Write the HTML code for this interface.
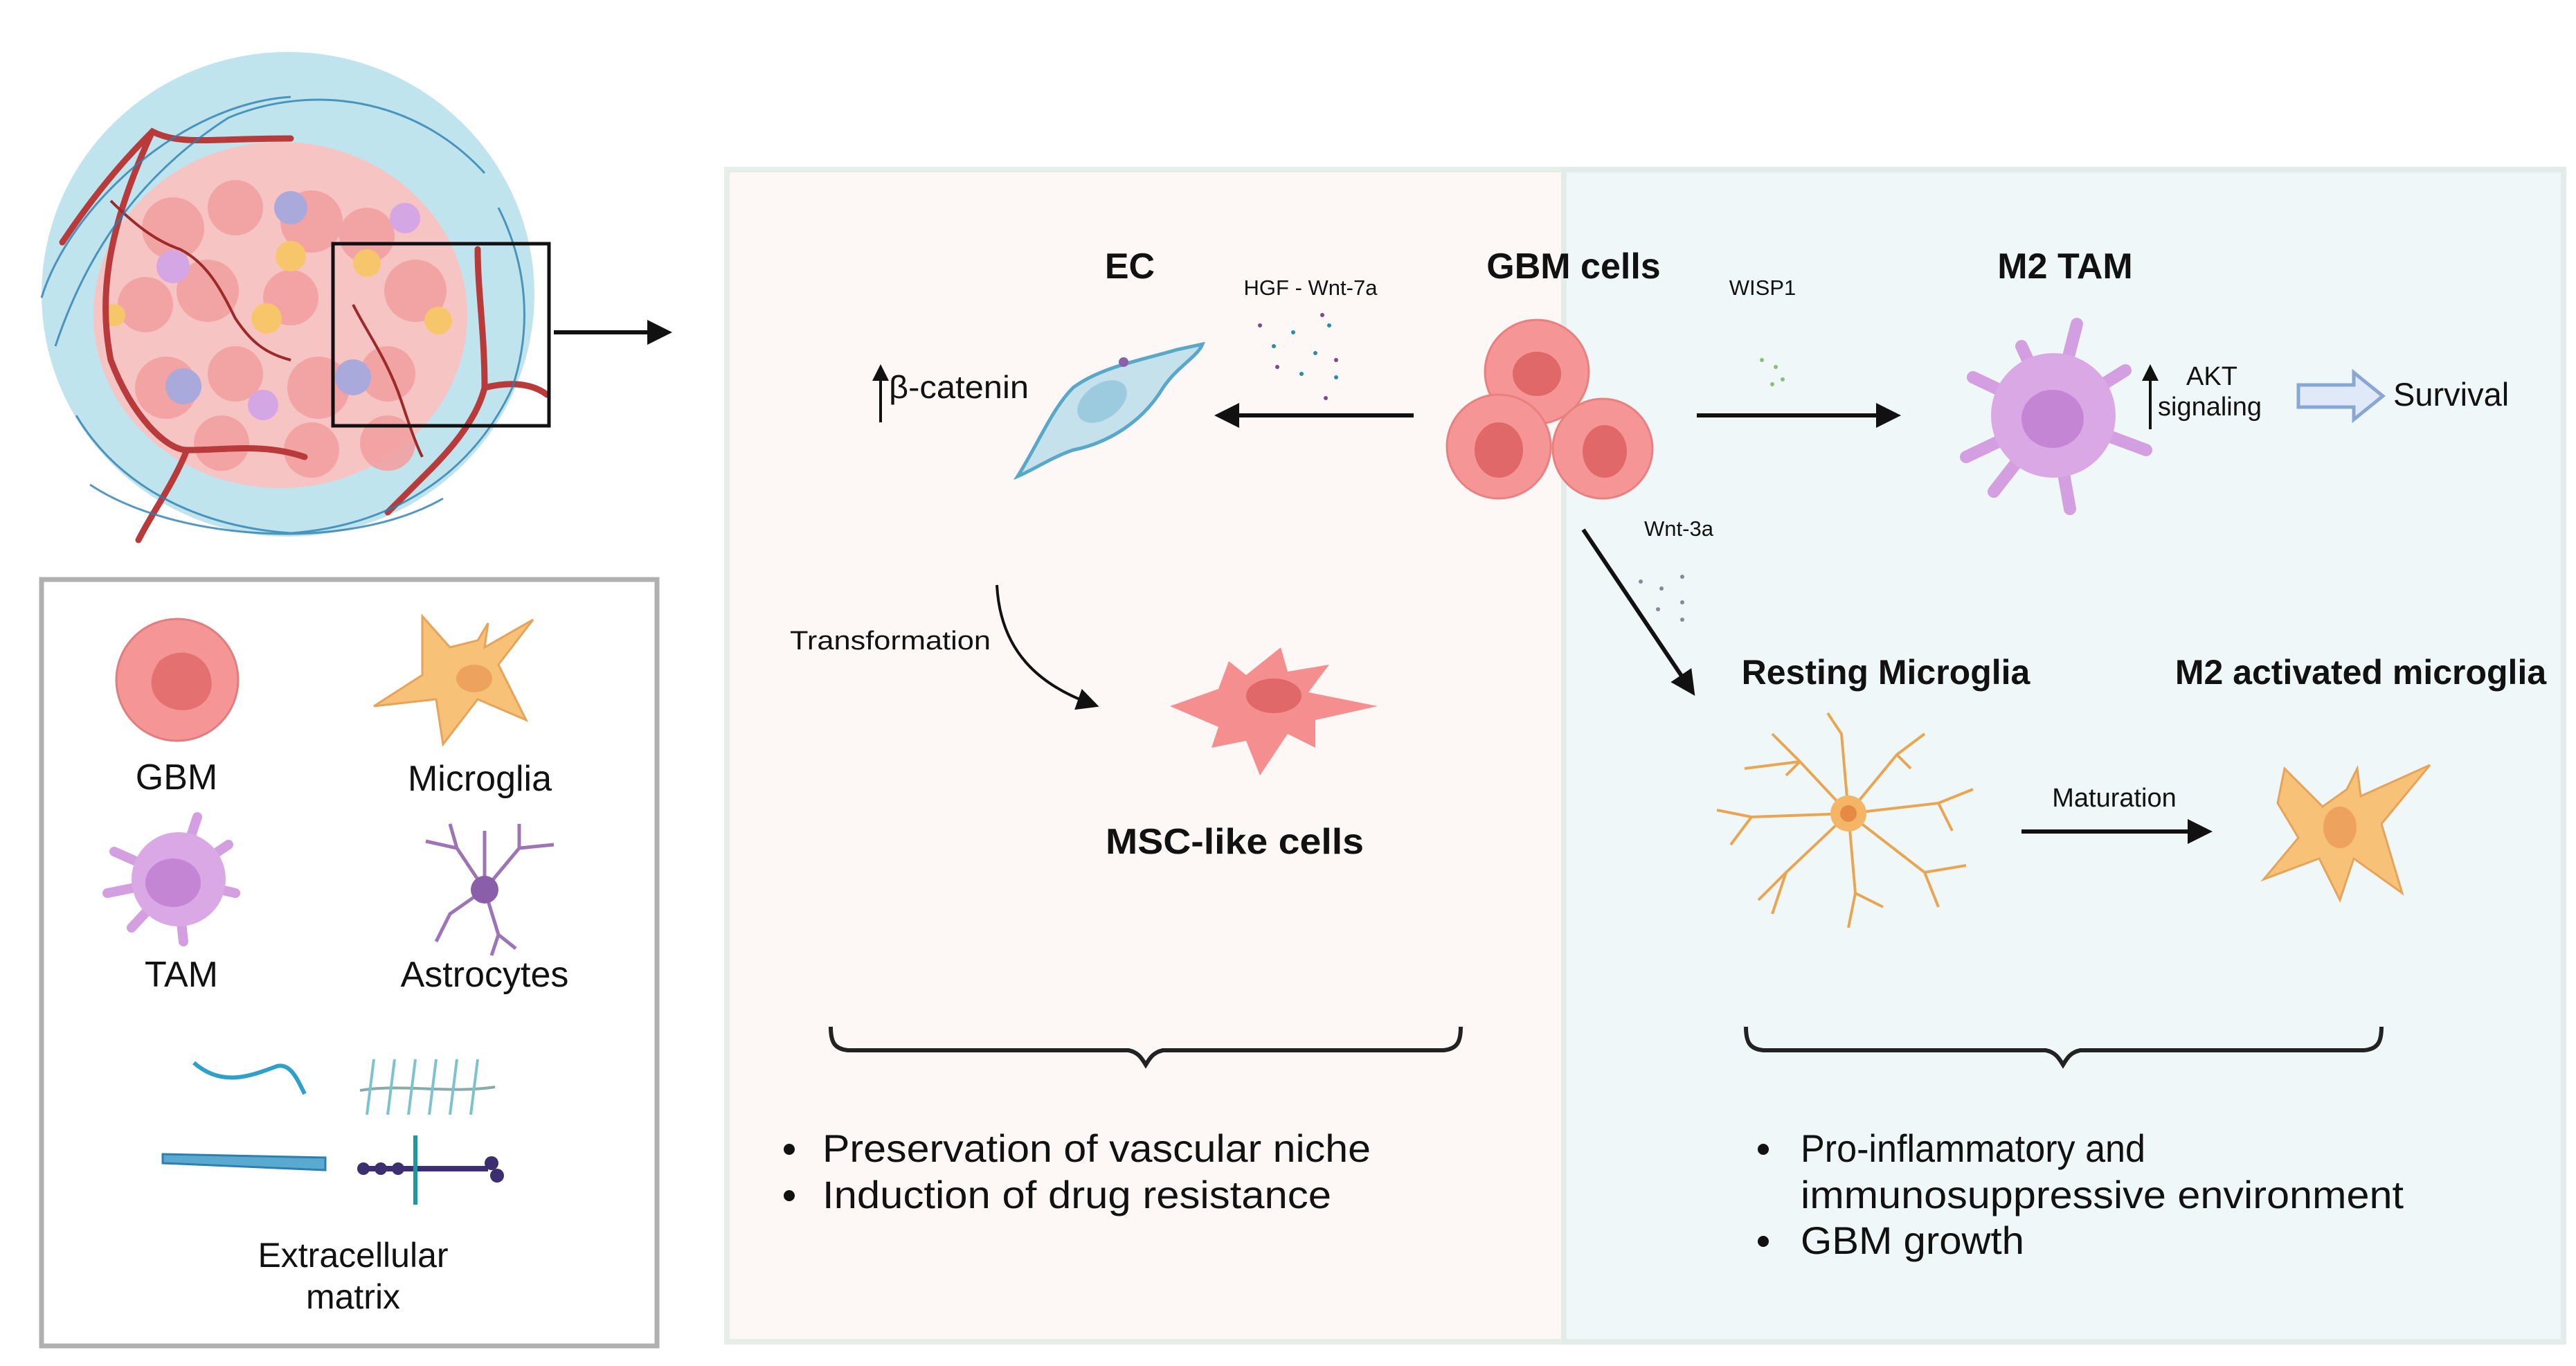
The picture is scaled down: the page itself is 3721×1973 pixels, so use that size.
<!DOCTYPE html>
<html><head><meta charset="utf-8"><style>
html,body{margin:0;padding:0;background:#fff;}
svg{display:block;}
text{font-family:"Liberation Sans",sans-serif;fill:#111;}
</style></head><body>
<svg width="3721" height="1973" viewBox="0 0 3721 1973" xmlns="http://www.w3.org/2000/svg">
<defs>
<marker id="ah" markerWidth="6" markerHeight="6" refX="5" refY="3" orient="auto" markerUnits="strokeWidth"><path d="M0,0 L6,3 L0,6 Z" fill="#111"/></marker>
<marker id="ah2" markerWidth="8" markerHeight="8" refX="6" refY="4" orient="auto" markerUnits="strokeWidth"><path d="M0,0 L8,4 L0,8 Z" fill="#111"/></marker>
</defs>
<!-- panels -->
<rect x="1050" y="245" width="1209" height="1693" fill="#fdf8f6" stroke="#e6eee9" stroke-width="8"/>
<rect x="2259" y="245" width="1444" height="1693" fill="#f0f7f9" stroke="#e4ecea" stroke-width="8"/>

<!-- tumor -->
<ellipse cx="416" cy="425" rx="356" ry="350" fill="#bfe4ee"/>
<ellipse cx="405" cy="455" rx="270" ry="250" fill="#f7c4c4"/>
<g fill="#f2a0a0" opacity="0.9">
<circle cx="250" cy="330" r="45"/><circle cx="340" cy="300" r="40"/><circle cx="450" cy="320" r="45"/><circle cx="530" cy="340" r="40"/>
<circle cx="210" cy="440" r="40"/><circle cx="300" cy="420" r="45"/><circle cx="420" cy="430" r="40"/><circle cx="600" cy="420" r="45"/>
<circle cx="240" cy="560" r="45"/><circle cx="340" cy="540" r="40"/><circle cx="460" cy="560" r="45"/><circle cx="560" cy="540" r="40"/>
<circle cx="320" cy="640" r="40"/><circle cx="450" cy="650" r="40"/><circle cx="560" cy="640" r="40"/>
</g>
<g fill="#a9a9dc"><circle cx="420" cy="300" r="24"/><circle cx="265" cy="558" r="26"/><circle cx="510" cy="545" r="26"/></g>
<g fill="#d4a6e4"><circle cx="250" cy="385" r="24"/><circle cx="380" cy="585" r="22"/><circle cx="585" cy="315" r="22"/></g>
<g fill="#f7c66b"><circle cx="420" cy="370" r="22"/><circle cx="385" cy="460" r="22"/><circle cx="530" cy="380" r="20"/><circle cx="633" cy="463" r="20"/><circle cx="165" cy="455" r="16"/></g>
<g fill="none" stroke="#b83a3a" stroke-width="9" stroke-linecap="round">
<path d="M90,350 C150,260 200,210 220,190 C260,210 300,200 420,200"/>
<path d="M220,190 C160,320 140,420 160,520 C190,600 240,650 270,650 C330,650 380,640 440,660"/>
<path d="M270,650 C250,700 220,740 200,780"/>
<path d="M690,360 C690,420 700,480 700,560 C690,600 660,640 620,680 C600,700 580,720 560,740"/>
<path d="M700,560 C740,550 770,555 790,570"/>
</g>
<g fill="none" stroke="#9c2a2a" stroke-width="4"><path d="M160,290 C200,330 230,350 260,360 C300,380 320,420 340,460 C360,490 380,510 420,520"/>
<path d="M510,440 C530,480 560,520 580,580 C590,610 600,640 610,660"/></g>
<g fill="none" stroke="#2c7fb0" stroke-width="3" opacity="0.8">
<path d="M80,500 C120,380 190,260 330,170 C450,120 600,140 700,250"/>
<path d="M110,600 C170,700 280,760 420,770 C560,760 680,690 740,560"/>
<path d="M60,430 C100,300 260,150 420,140"/>
<path d="M130,700 C250,780 500,800 640,720"/>
<path d="M720,300 C760,380 770,470 740,560"/>
</g>
<rect x="481" y="352" width="312" height="263" fill="none" stroke="#111" stroke-width="5"/>
<line x1="800" y1="480" x2="965" y2="480" stroke="#111" stroke-width="6" marker-end="url(#ah)"/>

<!-- legend -->
<rect x="60" y="837" width="889" height="1107" fill="#fff" stroke="#b0b0b0" stroke-width="7"/>
<circle cx="256" cy="982" r="88" fill="#f59595" stroke="#e07d7d" stroke-width="3"/>
<path d="M230,955 C260,930 300,945 305,980 C310,1010 285,1030 255,1025 C225,1020 205,990 230,955Z" fill="#e47070"/>
<text x="255" y="1140" font-size="52" text-anchor="middle">GBM</text>
<path d="M610,890 L650,935 L690,925 L705,900 L700,935 L770,895 L720,960 L760,1040 L690,1010 L640,1075 L630,1010 L540,1020 L610,975 Z" fill="#f8c178" stroke="#e6a35a" stroke-width="3"/>
<ellipse cx="685" cy="980" rx="26" ry="20" fill="#eda35e"/>
<text x="693" y="1142" font-size="52" text-anchor="middle">Microglia</text>
<g stroke="#d49fe0" stroke-width="14" stroke-linecap="round"><line x1="255" y1="1270" x2="285" y2="1180"/><line x1="255" y1="1270" x2="165" y2="1230"/><line x1="255" y1="1270" x2="155" y2="1290"/><line x1="255" y1="1270" x2="340" y2="1290"/><line x1="255" y1="1270" x2="265" y2="1360"/><line x1="255" y1="1270" x2="190" y2="1340"/><line x1="255" y1="1270" x2="330" y2="1220"/></g>
<circle cx="258" cy="1270" r="68" fill="#dba8e6"/>
<ellipse cx="250" cy="1275" rx="40" ry="35" fill="#c485d4"/>
<text x="262" y="1425" font-size="52" text-anchor="middle">TAM</text>
<g stroke="#9d74b6" stroke-width="5" fill="none"><path d="M700,1285 L660,1225 L615,1215 M660,1225 L650,1190 M700,1285 L700,1200 M700,1285 L750,1225 L800,1220 M750,1225 L750,1190 M700,1285 L650,1320 L630,1360 M700,1285 L720,1350 L745,1370 M720,1350 L710,1380"/></g>
<circle cx="700" cy="1285" r="20" fill="#8a5ea8"/>
<text x="700" y="1425" font-size="52" text-anchor="middle">Astrocytes</text>
<path d="M280,1535 C320,1570 360,1555 400,1540 C420,1535 430,1560 440,1580" fill="none" stroke="#2ea0c9" stroke-width="6"/>
<path d="M520,1575 C580,1565 650,1580 715,1570" fill="none" stroke="#8aa" stroke-width="4"/>
<g stroke="#7cc3cc" stroke-width="4"><line x1="540" y1="1530" x2="530" y2="1610"/><line x1="570" y1="1530" x2="560" y2="1610"/><line x1="600" y1="1530" x2="590" y2="1610"/><line x1="630" y1="1530" x2="620" y2="1610"/><line x1="660" y1="1530" x2="650" y2="1610"/><line x1="690" y1="1530" x2="680" y2="1610"/></g>
<path d="M235,1667 L470,1672 L470,1690 L235,1680 Z" fill="#5aa9d0" stroke="#2d7fb0" stroke-width="3"/>
<line x1="525" y1="1688" x2="705" y2="1688" stroke="#3d2e70" stroke-width="8"/>
<line x1="600" y1="1640" x2="600" y2="1740" stroke="#1a9aa0" stroke-width="6"/>
<g fill="#3d2e70"><circle cx="525" cy="1688" r="9"/><circle cx="550" cy="1688" r="9"/><circle cx="575" cy="1688" r="9"/><circle cx="710" cy="1680" r="10"/><circle cx="718" cy="1698" r="10"/></g>
<text x="510" y="1830" font-size="50" text-anchor="middle">Extracellular</text>
<text x="510" y="1890" font-size="50" text-anchor="middle">matrix</text>

<!-- main texts -->
<text x="1632" y="402" font-size="52" font-weight="bold" text-anchor="middle">EC</text>
<text x="2273" y="402" font-size="52" font-weight="bold" text-anchor="middle">GBM cells</text>
<text x="2983" y="402" font-size="52" font-weight="bold" text-anchor="middle">M2 TAM</text>
<text x="1893" y="426" font-size="31" text-anchor="middle">HGF - Wnt-7a</text>
<text x="2546" y="426" font-size="31" text-anchor="middle">WISP1</text>
<text x="2425" y="774" font-size="31" text-anchor="middle">Wnt-3a</text>

<!-- beta-catenin -->
<line x1="1272" y1="610" x2="1272" y2="530" stroke="#111" stroke-width="4" marker-end="url(#ah)"/>
<text x="1284" y="575" font-size="46" textLength="202" lengthAdjust="spacingAndGlyphs">β-catenin</text>
<!-- EC cell -->
<path d="M1470,688 C1500,640 1520,590 1550,560 C1590,530 1650,520 1700,505 L1737,497 C1730,515 1700,530 1680,560 C1650,610 1600,640 1550,650 C1520,660 1490,680 1470,688Z" fill="#c4e1ec" stroke="#5aa8c8" stroke-width="5"/>
<ellipse cx="1592" cy="580" rx="40" ry="25" transform="rotate(-35 1592 580)" fill="#9ccbe0"/>
<circle cx="1623" cy="523" r="7" fill="#8a60a8"/>
<!-- particles -->
<g fill="#2a8ca8"><circle cx="1840" cy="500" r="3"/><circle cx="1868" cy="480" r="3"/><circle cx="1900" cy="510" r="3"/><circle cx="1920" cy="470" r="3"/><circle cx="1880" cy="540" r="3"/><circle cx="1930" cy="545" r="3"/></g>
<g fill="#7a4a8e"><circle cx="1820" cy="470" r="3"/><circle cx="1910" cy="455" r="3"/><circle cx="1845" cy="530" r="3"/><circle cx="1930" cy="520" r="3"/><circle cx="1915" cy="575" r="3"/></g>
<g fill="#8abf7a"><circle cx="2545" cy="520" r="3"/><circle cx="2565" cy="530" r="3"/><circle cx="2575" cy="548" r="3"/><circle cx="2560" cy="555" r="3"/></g>
<g fill="#889"><circle cx="2370" cy="840" r="3"/><circle cx="2400" cy="850" r="3"/><circle cx="2430" cy="833" r="3"/><circle cx="2395" cy="880" r="3"/><circle cx="2430" cy="870" r="3"/><circle cx="2430" cy="895" r="3"/></g>

<line x1="2042" y1="600" x2="1760" y2="600" stroke="#111" stroke-width="6" marker-end="url(#ah)"/>
<!-- GBM cluster -->
<g fill="#f59595" stroke="#e88080" stroke-width="3">
<circle cx="2220" cy="537" r="75"/><circle cx="2165" cy="645" r="75"/><circle cx="2315" cy="648" r="72"/>
</g>
<g fill="#e06868"><ellipse cx="2220" cy="540" rx="35" ry="32"/><ellipse cx="2165" cy="650" rx="35" ry="40"/><ellipse cx="2318" cy="652" rx="32" ry="38"/></g>

<line x1="2451" y1="600" x2="2740" y2="600" stroke="#111" stroke-width="6" marker-end="url(#ah)"/>
<!-- TAM -->
<g stroke="#d49fe0" stroke-width="18" stroke-linecap="round"><line x1="2966" y1="600" x2="3000" y2="468"/><line x1="2966" y1="600" x2="2850" y2="545"/><line x1="2966" y1="600" x2="2840" y2="660"/><line x1="2966" y1="600" x2="3100" y2="650"/><line x1="2966" y1="600" x2="2990" y2="735"/><line x1="2966" y1="600" x2="2880" y2="710"/><line x1="2966" y1="600" x2="3070" y2="535"/><line x1="2966" y1="600" x2="2920" y2="500"/></g>
<circle cx="2966" cy="600" r="90" fill="#dba8e6"/>
<ellipse cx="2965" cy="605" rx="45" ry="42" fill="#c485d4"/>
<line x1="3106" y1="620" x2="3106" y2="530" stroke="#111" stroke-width="4" marker-end="url(#ah)"/>
<text x="3195" y="556" font-size="38" text-anchor="middle">AKT</text>
<text x="3192" y="600" font-size="38" text-anchor="middle">signaling</text>
<path d="M3320,556 L3400,556 L3400,538 L3442,572 L3400,606 L3400,588 L3320,588 Z" fill="#dfe9f7" stroke="#88a8d4" stroke-width="5"/>
<text x="3457" y="586" font-size="47">Survival</text>

<!-- diagonal arrow -->
<line x1="2287" y1="765" x2="2445" y2="1000" stroke="#111" stroke-width="6" marker-end="url(#ah)"/>

<text x="1141" y="938" font-size="38" textLength="290" lengthAdjust="spacingAndGlyphs">Transformation</text>
<path d="M1440,845 C1445,940 1500,990 1580,1018" fill="none" stroke="#111" stroke-width="4" marker-end="url(#ah2)"/>
<!-- MSC cell -->
<path d="M1690,1020 L1760,995 L1775,955 L1800,975 L1850,935 L1860,970 L1920,960 L1890,1000 L1990,1020 L1900,1040 L1900,1080 L1860,1060 L1820,1120 L1800,1070 L1750,1080 L1760,1050 Z" fill="#f58f8f"/>
<ellipse cx="1840" cy="1005" rx="40" ry="25" fill="#e06868"/>
<text x="1597" y="1233" font-size="52" font-weight="bold" textLength="373" lengthAdjust="spacingAndGlyphs">MSC-like cells</text>

<text x="2724" y="988" font-size="50" font-weight="bold" text-anchor="middle">Resting Microglia</text>
<text x="3410" y="988" font-size="50" font-weight="bold" text-anchor="middle">M2 activated microglia</text>
<!-- resting microglia -->
<g stroke="#e8a552" stroke-width="4" fill="none">
<path d="M2670,1175 L2600,1100 L2560,1060 M2600,1100 L2580,1120 M2670,1175 L2660,1060 L2640,1030 M2670,1175 L2740,1090 L2780,1060 M2740,1090 L2760,1110 M2670,1175 L2800,1160 L2850,1140 M2800,1160 L2820,1200 M2670,1175 L2780,1260 L2800,1310 M2670,1175 L2680,1290 L2670,1340 M2670,1175 L2580,1260 L2540,1300 M2670,1175 L2530,1180 L2480,1170 M2530,1180 L2500,1220 M2600,1100 L2520,1110 M2680,1290 L2720,1310 M2580,1260 L2560,1320 M2780,1260 L2840,1250"/>
</g>
<circle cx="2670" cy="1175" r="26" fill="#f4b566"/>
<circle cx="2670" cy="1175" r="12" fill="#e48a44"/>
<text x="3054" y="1165" font-size="38" text-anchor="middle">Maturation</text>
<line x1="2920" y1="1201" x2="3190" y2="1201" stroke="#111" stroke-width="6" marker-end="url(#ah)"/>
<!-- M2 microglia -->
<path d="M3300,1110 L3355,1165 L3390,1140 L3405,1110 L3410,1150 L3510,1105 L3440,1190 L3470,1290 L3400,1240 L3380,1300 L3350,1240 L3270,1270 L3320,1210 L3290,1160 Z" fill="#f8c178" stroke="#e6a35a" stroke-width="3"/>
<ellipse cx="3380" cy="1195" rx="24" ry="30" fill="#eda35e"/>

<!-- braces -->
<path d="M1200,1483 C1200,1505 1205,1515 1225,1517 L1630,1517 C1645,1520 1650,1530 1655,1538 C1660,1530 1665,1520 1680,1517 L2085,1517 C2105,1515 2110,1505 2110,1483" fill="none" stroke="#222" stroke-width="6"/>
<path d="M2522,1483 C2522,1505 2527,1515 2547,1517 L2955,1517 C2970,1520 2975,1530 2980,1538 C2985,1530 2990,1520 3005,1517 L3415,1517 C3435,1515 3440,1505 3440,1483" fill="none" stroke="#222" stroke-width="6"/>

<!-- bullets -->
<g font-size="56">
<circle cx="1140" cy="1660" r="8" fill="#111"/><text x="1188" y="1678" textLength="792" lengthAdjust="spacingAndGlyphs">Preservation of vascular niche</text>
<circle cx="1140" cy="1727" r="8" fill="#111"/><text x="1188" y="1745" textLength="735" lengthAdjust="spacingAndGlyphs">Induction of drug resistance</text>
<circle cx="2547" cy="1660" r="8" fill="#111"/><text x="2601" y="1678" textLength="498" lengthAdjust="spacingAndGlyphs">Pro-inflammatory and</text>
<text x="2601" y="1745" textLength="871" lengthAdjust="spacingAndGlyphs">immunosuppressive environment</text>
<circle cx="2547" cy="1793" r="8" fill="#111"/><text x="2601" y="1811" textLength="323" lengthAdjust="spacingAndGlyphs">GBM growth</text>
</g>
</svg>
</body></html>
